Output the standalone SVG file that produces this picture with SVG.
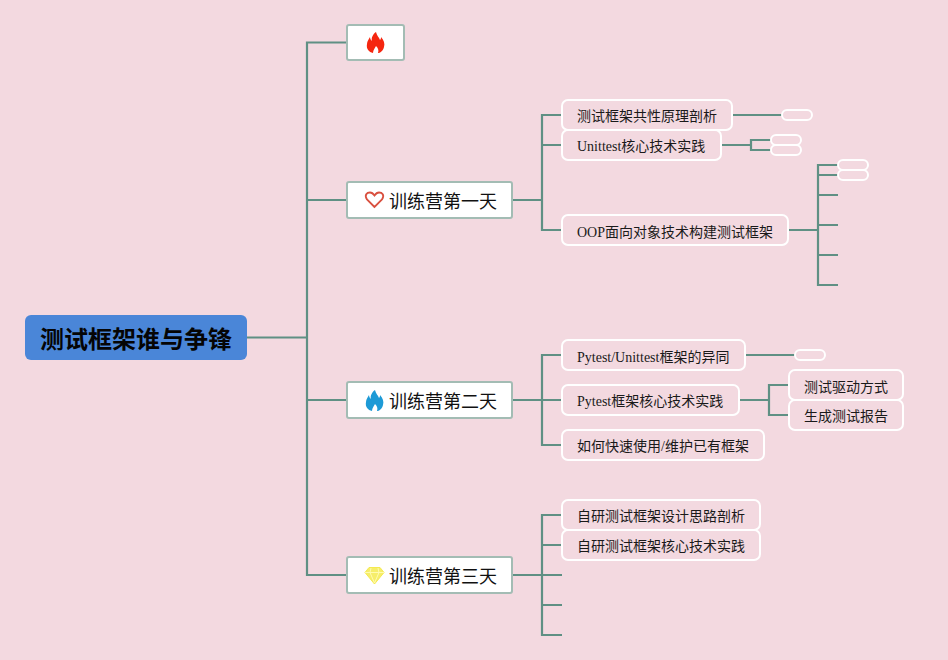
<svg xmlns="http://www.w3.org/2000/svg" width="948" height="660" viewBox="0 0 948 660">
<style>
.c{fill:none;stroke:#5f9084;stroke-width:2.200}
.t1{fill:#fff;stroke:#a3bcb4;stroke-width:2}
.t2{fill:#f3d9e0;stroke:#fff;stroke-width:2}
.s{font-family:"Liberation Serif","Noto Sans CJK SC",serif;font-size:14px;fill:#1a1a1a}
.m{font-family:"Noto Sans CJK SC","Noto Sans",sans-serif;font-size:18px;fill:#111}
.r{font-family:"Noto Sans CJK SC","Noto Sans",sans-serif;font-size:24px;font-weight:700;fill:#050505}
</style>
<rect width="948" height="660" fill="#f3d9e0"/>
<g id="connectors">
<path class="c" d="M247 337.500H307M347 42.500H307V575H347M307 200H347M307 400H347"/>
<path class="c" d="M512 200H542M562 115H542V230H562M542 145H562"/>
<path class="c" d="M732 115H782M722 145H751M771 140H751V150H771"/>
<path class="c" d="M789 230H818M838 165H818V285H838M818 175H838M818 195H838M818 225H838M818 255H838"/>
<path class="c" d="M512 400H542M562 355H542V445H562M542 400H562"/>
<path class="c" d="M745 355H795M739 400H769M789 385H769V415H789"/>
<path class="c" d="M512 575H542M562 515H542V635H562M542 545H562M542 575H562M542 605H562"/>
</g>
<g id="root"><rect x="25" y="315" width="222" height="45" rx="6" fill="#4a86d8"/><text class="r" x="40" y="348">测试框架谁与争锋</text></g>
<g id="fire"><rect class="t1" x="347" y="25" width="57" height="35" rx="2"/>
<path d="M376 32C377 36 379 37 380 40C381 39 381 38 381 37C384 40 385 44 384 47C383 51 380 53 378 53C379 50 378 48 376 46C375 48 373 50 373 53C369 52 366 49 367 44C367 41 369 39 370 37C370 39 371 40 372 41C371 38 373 34 376 32Z" fill="#f5260f"/></g>
<g id="day1"><rect class="t1" x="347" y="182" width="165" height="36" rx="2"/>
<path d="M374.500 207L367 199.500C364 195 367 192.500 370 192.500C372 192.500 373.500 194 374.500 195.500C375.500 194 377 192.500 379 192.500C382 192.500 385 195 382 199.500Z" fill="none" stroke="#d9503f" stroke-width="1.800"/>
<text class="m" x="389" y="208">训练营第一天</text></g>
<g id="day2"><rect class="t1" x="347" y="382" width="165" height="36" rx="2"/>
<path d="M375 390C376 394 378 395 379 398C380 397 380 396 380 395C383 398 384 402 383 405C382 409 379 411 377 411C378 408 377 406 375 404C374 406 372 408 372 411C368 410 365 407 366 402C366 399 368 397 369 395C369 397 370 398 371 399C370 396 372 392 375 390Z" fill="#1d9ad6"/>
<text class="m" x="389" y="408">训练营第二天</text></g>
<g id="day3"><rect class="t1" x="347" y="557" width="165" height="36" rx="2"/>
<path d="M369 567.500H380L384 572.500L374.500 584L365 572.500Z" fill="#f6ee6a" stroke="#f5ea4f" stroke-width="1"/>
<path d="M365 572.500H384M371 568L370 572.500L374.500 583L379 572.500L378 568" fill="none" stroke="#fffbb0" stroke-width="1"/>
<text class="m" x="389" y="583">训练营第三天</text></g>
<g id="n1"><rect class="t2" x="562" y="100" width="170" height="30" rx="6"/><text class="s" x="577" y="121">测试框架共性原理剖析</text></g>
<g id="n2"><rect class="t2" x="562" y="130" width="159" height="30" rx="6"/><text class="s" x="577" y="151">Unittest核心技术实践</text></g>
<g id="n3"><rect class="t2" x="562" y="215" width="226" height="30" rx="6"/><text class="s" x="577" y="237">OOP面向对象技术构建测试框架</text></g>
<g id="e1"><rect class="t2" x="782" y="110" width="30" height="10" rx="5"/></g>
<g id="e2"><rect class="t2" x="771" y="135" width="30" height="10" rx="5"/></g>
<g id="e3"><rect class="t2" x="771" y="145" width="30" height="10" rx="5"/></g>
<g id="e4"><rect class="t2" x="838" y="160" width="30" height="10" rx="5"/></g>
<g id="e5"><rect class="t2" x="838" y="170" width="30" height="10" rx="5"/></g>
<g id="n4"><rect class="t2" x="562" y="340" width="183" height="30" rx="6"/><text class="s" x="577" y="362">Pytest/Unittest框架的异同</text></g>
<g id="n5"><rect class="t2" x="562" y="385" width="177" height="30" rx="6"/><text class="s" x="577" y="406">Pytest框架核心技术实践</text></g>
<g id="n6"><rect class="t2" x="562" y="430" width="202" height="30" rx="6"/><text class="s" x="577" y="451">如何快速使用/维护已有框架</text></g>
<g id="e6"><rect class="t2" x="795" y="350" width="30" height="10" rx="5"/></g>
<g id="n7"><rect class="t2" x="789" y="370" width="114" height="30" rx="6"/><text class="s" x="804" y="392">测试驱动方式</text></g>
<g id="n8"><rect class="t2" x="789" y="400" width="114" height="30" rx="6"/><text class="s" x="804" y="421">生成测试报告</text></g>
<g id="n9"><rect class="t2" x="562" y="500" width="198" height="30" rx="6"/><text class="s" x="577" y="521">自研测试框架设计思路剖析</text></g>
<g id="n10"><rect class="t2" x="562" y="530" width="198" height="30" rx="6"/><text class="s" x="577" y="551">自研测试框架核心技术实践</text></g>
</svg>
